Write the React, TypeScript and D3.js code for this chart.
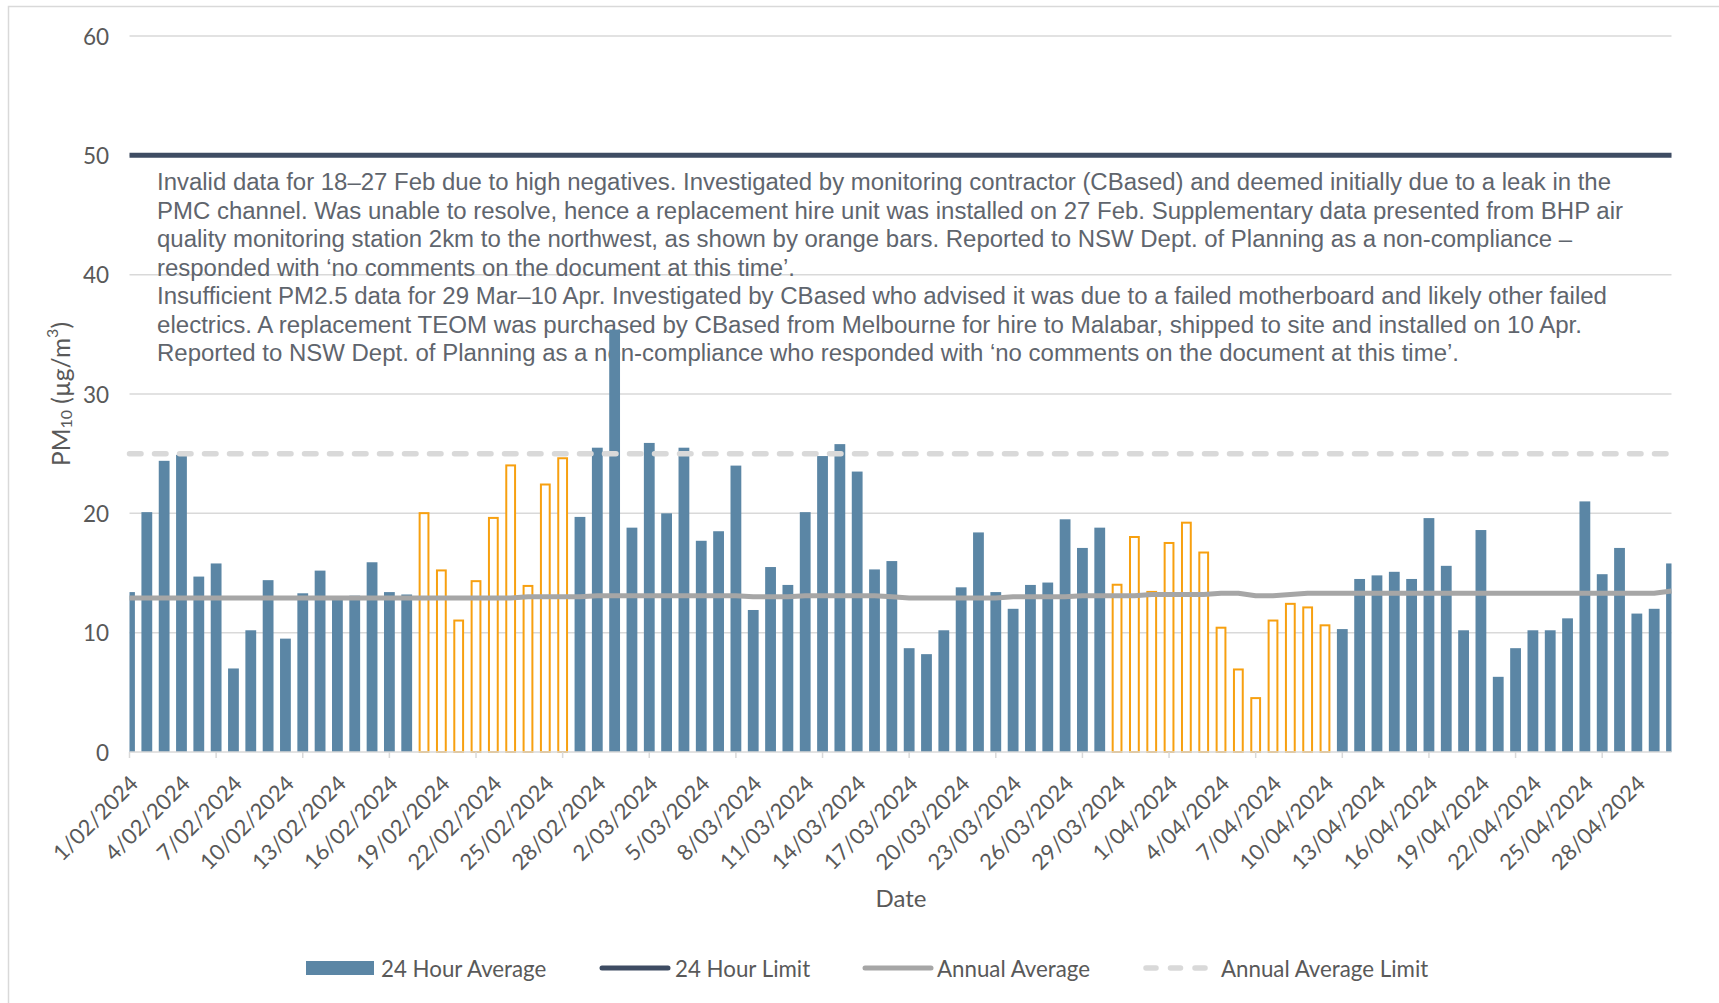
import React, { useEffect, useRef } from 'react';
import * as d3 from 'd3';

// daily PM10 (µg/m³), 1 Feb – 30 Apr 2024
const dailyPM10 = [
  13.4, 20.1, 24.4, 24.9, 14.7, 15.8, 7.0, 10.2, 14.4, 9.5,
  13.3, 15.2, 12.8, 13.1, 15.9, 13.4, 13.2, 20.1, 15.3, 11.1,
  14.4, 19.7, 24.1, 14.0, 22.5, 24.7, 19.7, 25.5, 35.4, 18.8,
  25.9, 20.0, 25.5, 17.7, 18.5, 24.0, 11.9, 15.5, 14.0, 20.1,
  24.8, 25.8, 23.5, 15.3, 16.0, 8.7, 8.2, 10.2, 13.8, 18.4,
  13.4, 12.0, 14.0, 14.2, 19.5, 17.1, 18.8, 14.1, 18.1, 13.5,
  17.6, 19.3, 16.8, 10.5, 7.0, 4.6, 11.1, 12.5, 12.2, 10.7,
  10.3, 14.5, 14.8, 15.1, 14.5, 19.6, 15.6, 10.2, 18.6, 6.3,
  8.7, 10.2, 10.2, 11.2, 21.0, 14.9, 17.1, 11.6, 12.0, 15.8,
];

const annualAverage = [
  12.9, 12.9, 12.9, 12.9, 12.9, 12.9, 12.9, 12.9, 12.9, 12.9,
  12.9, 12.9, 12.9, 12.9, 12.9, 12.9, 12.9, 12.9, 12.9, 12.9,
  12.9, 12.9, 12.9, 13.0, 13.0, 13.0, 13.0, 13.1, 13.1, 13.1,
  13.1, 13.1, 13.1, 13.1, 13.1, 13.1, 13.0, 13.0, 13.0, 13.1,
  13.1, 13.1, 13.1, 13.1, 13.0, 12.9, 12.9, 12.9, 12.9, 12.9,
  12.9, 13.0, 13.0, 13.0, 13.0, 13.1, 13.1, 13.1, 13.1, 13.2,
  13.2, 13.2, 13.2, 13.3, 13.3, 13.1, 13.1, 13.2, 13.3, 13.3,
  13.3, 13.3, 13.3, 13.3, 13.3, 13.3, 13.3, 13.3, 13.3, 13.3,
  13.3, 13.3, 13.3, 13.3, 13.3, 13.3, 13.3, 13.3, 13.3, 13.5,
];

const dailyLimit = 50;
const annualLimit = 25;

// days filled from the BHP station (orange bars)
const supplementaryPeriods = [
  ['18/02/2024', '26/02/2024'],
  ['29/03/2024', '10/04/2024'],
];

const tickLabels = [
  '1/02/2024', '4/02/2024', '7/02/2024', '10/02/2024', '13/02/2024', '16/02/2024',
  '19/02/2024', '22/02/2024', '25/02/2024', '28/02/2024', '2/03/2024', '5/03/2024',
  '8/03/2024', '11/03/2024', '14/03/2024', '17/03/2024', '20/03/2024', '23/03/2024',
  '26/03/2024', '29/03/2024', '1/04/2024', '4/04/2024', '7/04/2024', '10/04/2024',
  '13/04/2024', '16/04/2024', '19/04/2024', '22/04/2024', '25/04/2024', '28/04/2024',
];

const yTicks = [0, 10, 20, 30, 40, 50, 60];

const noteLines = [
  ['Invalid data for 18–27 Feb due to high negatives. Investigated by monitoring contractor (CBased) and deemed initially due to a leak in the', 1454],
  ['PMC channel. Was unable to resolve, hence a replacement hire unit was installed on 27 Feb. Supplementary data presented from BHP air', 1466],
  ['quality monitoring station 2km to the northwest, as shown by orange bars. Reported to NSW Dept. of Planning as a non-compliance –', 1415],
  ['responded with ‘no comments on the document at this time’.', 638],
  ['Insufficient PM2.5 data for 29 Mar–10 Apr. Investigated by CBased who advised it was due to a failed motherboard and likely other failed', 1450],
  ['electrics. A replacement TEOM was purchased by CBased from Melbourne for hire to Malabar, shipped to site and installed on 10 Apr.', 1425],
  ['Reported to NSW Dept. of Planning as a non-compliance who responded with ‘no comments on the document at this time’.', 1302],
];

const legendItems = ['24 Hour Average', '24 Hour Limit', 'Annual Average', 'Annual Average Limit'];

const BLUE = '#5b86a5';
const ORANGE = '#f7a010';
const NAVY = '#3e4c63';
const GREY_LINE = '#a6a6a6';
const LIGHT = '#d9d9d9';
const AXIS_TEXT = '#595959';
const AXIS_FONT = 'Lato, "Open Sans", sans-serif';

const App = () => {
  const svgRef = useRef(null);

  useEffect(() => {
    const svg = d3.select(svgRef.current);
    svg.selectAll('*').remove();

    const parse = d3.timeParse('%d/%m/%Y');
    const start = parse('1/02/2024');
    const end = parse('30/04/2024');
    const days = d3.timeDay.range(start, d3.timeDay.offset(end, 1));

    const x = d3.scaleTime().domain([start, end]).range([129.5, 1671.5]);
    const y = d3.scaleLinear().domain([0, 60]).range([752, 36]);
    const barW = 10.8;

    const isSupp = (d) =>
      supplementaryPeriods.some(([a, b]) => d >= parse(a) && d <= parse(b));

    // outer frame
    svg.append('rect')
      .attr('x', 8.5).attr('y', 6.5)
      .attr('width', 1730).attr('height', 1010)
      .attr('fill', 'none').attr('stroke', LIGHT).attr('stroke-width', 1.5);

    svg.append('defs').append('clipPath').attr('id', 'plot')
      .append('rect')
      .attr('x', x.range()[0]).attr('y', 0)
      .attr('width', x.range()[1] - x.range()[0]).attr('height', 800);

    // gridlines
    svg.append('g').selectAll('line')
      .data(yTicks.filter(t => t > 0))
      .enter().append('line')
      .attr('x1', x.range()[0]).attr('x2', x.range()[1])
      .attr('y1', d => y(d)).attr('y2', d => y(d))
      .attr('stroke', LIGHT).attr('stroke-width', 1.5);

    // y tick labels
    svg.append('g').selectAll('text')
      .data(yTicks)
      .enter().append('text')
      .attr('x', 109).attr('y', d => y(d))
      .attr('text-anchor', 'end').attr('dominant-baseline', 'central')
      .attr('font-family', AXIS_FONT).attr('font-size', 22.5)
      .attr('fill', AXIS_TEXT)
      .text(d => d);

    // annotation text
    const note = svg.append('text')
      .attr('font-family', '"Liberation Sans", Arial, sans-serif')
      .attr('font-size', 23).attr('fill', '#5f656d');
    noteLines.forEach(([line, len], i) => {
      note.append('tspan')
        .attr('x', 157).attr('y', 190 + i * 28.5)
        .attr('textLength', len).attr('lengthAdjust', 'spacingAndGlyphs')
        .text(line);
    });

    // bars
    const bars = svg.append('g').attr('clip-path', 'url(#plot)');
    days.forEach((d, i) => {
      const v = dailyPM10[i];
      if (isSupp(d)) {
        bars.append('rect')
          .attr('x', x(d) - barW / 2 + 1).attr('y', y(v) + 1)
          .attr('width', barW - 2).attr('height', y(0) - y(v) - 1)
          .attr('fill', '#fff').attr('stroke', ORANGE).attr('stroke-width', 2);
      } else {
        bars.append('rect')
          .attr('x', x(d) - barW / 2).attr('y', y(v))
          .attr('width', barW).attr('height', y(0) - y(v))
          .attr('fill', BLUE);
      }
    });

    // x axis line and ticks
    svg.append('line')
      .attr('x1', x.range()[0]).attr('x2', x.range()[1])
      .attr('y1', y(0)).attr('y2', y(0))
      .attr('stroke', LIGHT).attr('stroke-width', 1.5);
    svg.append('g').selectAll('line')
      .data(days.filter((d, i) => i % 5 === 0))
      .enter().append('line')
      .attr('x1', d => x(d)).attr('x2', d => x(d))
      .attr('y1', y(0)).attr('y2', y(0) + 6)
      .attr('stroke', LIGHT).attr('stroke-width', 1.5);

    // x tick labels
    svg.append('g').selectAll('text')
      .data(tickLabels)
      .enter().append('text')
      .attr('transform', d => `translate(${x(parse(d)) + 4},${779}) rotate(-45)`)
      .attr('text-anchor', 'end').attr('dominant-baseline', 'central')
      .attr('font-family', AXIS_FONT).attr('font-size', 22)
      .attr('fill', AXIS_TEXT)
      .text(d => d);

    // limit lines and annual average
    const lineGen = d3.line().x((v, i) => x(days[i])).y(v => y(v));

    svg.append('line')
      .attr('x1', x.range()[0]).attr('x2', x.range()[1])
      .attr('y1', y(annualLimit)).attr('y2', y(annualLimit))
      .attr('stroke', LIGHT).attr('stroke-width', 5.5)
      .attr('stroke-linecap', 'round').attr('stroke-dasharray', '11.5 13.5');

    svg.append('path')
      .datum(annualAverage)
      .attr('d', lineGen)
      .attr('fill', 'none').attr('stroke', GREY_LINE).attr('stroke-width', 5)
      .attr('stroke-linejoin', 'round');

    svg.append('line')
      .attr('x1', x.range()[0]).attr('x2', x.range()[1])
      .attr('y1', y(dailyLimit)).attr('y2', y(dailyLimit))
      .attr('stroke', NAVY).attr('stroke-width', 5);

    // axis titles
    svg.append('text')
      .attr('x', 901).attr('y', 897)
      .attr('text-anchor', 'middle').attr('dominant-baseline', 'central')
      .attr('font-family', AXIS_FONT).attr('font-size', 24).attr('fill', AXIS_TEXT)
      .text('Date');

    const yt = svg.append('text')
      .attr('transform', 'translate(60,394) rotate(-90)')
      .attr('text-anchor', 'middle').attr('dominant-baseline', 'central')
      .attr('font-family', AXIS_FONT).attr('font-size', 24.5).attr('fill', AXIS_TEXT);
    yt.append('tspan').text('PM');
    yt.append('tspan').attr('font-size', 16).attr('dy', 5).text('10');
    yt.append('tspan').attr('dy', -5).text(' (µg/m');
    yt.append('tspan').attr('font-size', 16).attr('dy', -9).text('3');
    yt.append('tspan').attr('dy', 9).text(')');

    // legend
    const lg = svg.append('g').attr('font-family', AXIS_FONT)
      .attr('font-size', 22.3).attr('fill', AXIS_TEXT);
    const ly = 968;
    lg.append('rect').attr('x', 306).attr('y', ly - 7).attr('width', 68).attr('height', 14).attr('fill', BLUE);
    lg.append('line').attr('x1', 602).attr('x2', 668).attr('y1', ly).attr('y2', ly)
      .attr('stroke', NAVY).attr('stroke-width', 5).attr('stroke-linecap', 'round');
    lg.append('line').attr('x1', 865).attr('x2', 931).attr('y1', ly).attr('y2', ly)
      .attr('stroke', GREY_LINE).attr('stroke-width', 5).attr('stroke-linecap', 'round');
    lg.append('line').attr('x1', 1146).attr('x2', 1213).attr('y1', ly).attr('y2', ly)
      .attr('stroke', LIGHT).attr('stroke-width', 5.5).attr('stroke-linecap', 'round')
      .attr('stroke-dasharray', '10 14.5');
    const lx = [381, 675, 937, 1221];
    legendItems.forEach((t, i) => {
      lg.append('text').attr('x', lx[i]).attr('y', ly)
        .attr('dominant-baseline', 'central').text(t);
    });
  }, []);

  return (
    <svg ref={svgRef} width={1719} height={1003}
      style={{ position: 'absolute', left: 0, top: 0, background: '#fff' }} />
  );
};

export default App;
